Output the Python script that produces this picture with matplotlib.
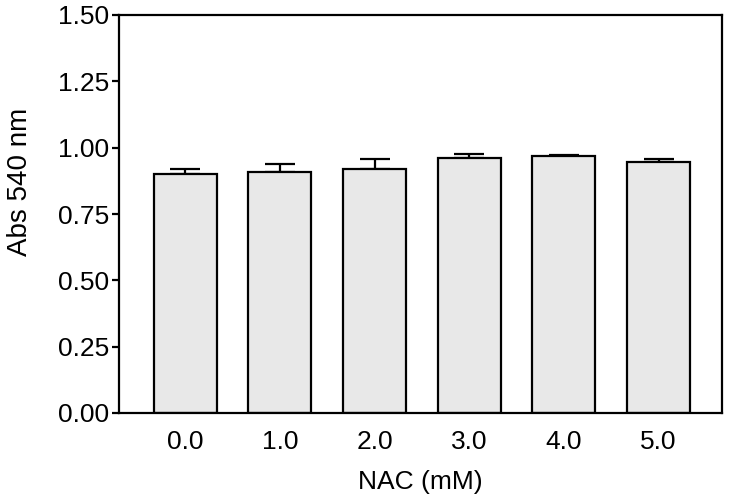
import matplotlib.pyplot as plt

plt.rcParams['font.family'] = ['Liberation Sans', 'DejaVu Sans']

# NAC concentration vs absorbance
nac = ['0.0', '1.0', '2.0', '3.0', '4.0', '5.0']
absorb = [0.900, 0.910, 0.920, 0.960, 0.968, 0.945]
err = [0.019, 0.029, 0.036, 0.015, 0.004, 0.011]

fig = plt.figure(figsize=(7.36, 5.0), dpi=100)
ax = fig.add_axes([0.1617, 0.174, 0.8193, 0.796])

x = range(len(nac))
ax.bar(x, absorb, width=0.666, color='#e8e8e8', edgecolor='black',
       linewidth=1.6, zorder=2)
ax.errorbar(x, absorb, yerr=[[0] * len(err), err], fmt='none',
            ecolor='black', elinewidth=1.6, capsize=11, capthick=1.6, zorder=1)

ax.set_xlim(-0.70, 5.67)
ax.set_ylim(0, 1.5)
ax.set_yticks([0, 0.25, 0.5, 0.75, 1.0, 1.25, 1.5])
ax.set_yticklabels(['0.00', '0.25', '0.50', '0.75', '1.00', '1.25', '1.50'])
ax.set_xticks(list(x))
ax.set_xticklabels(nac)
ax.tick_params(axis='y', direction='out', length=5, width=1.6, labelsize=19, pad=2)
ax.tick_params(axis='x', length=0, labelsize=19, pad=12)
for s in ax.spines.values():
    s.set_linewidth(1.6)

ax.set_xlabel('NAC (mM)', fontsize=19, labelpad=12)
ax.set_ylabel('Abs 540 nm', fontsize=20)
ax.yaxis.set_label_coords(-0.143, 0.58)

fig.savefig('out.png', dpi=100)
